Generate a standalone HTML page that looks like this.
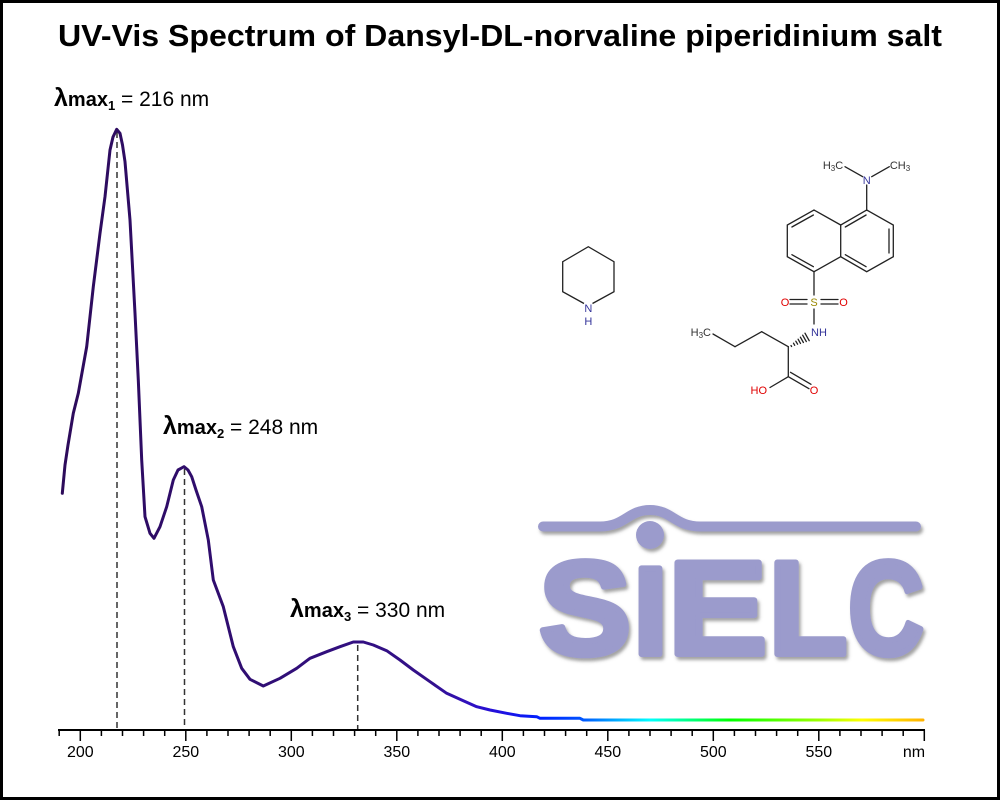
<!DOCTYPE html>
<html><head><meta charset="utf-8">
<style>
html,body{margin:0;padding:0;background:#fff;}
body{width:1000px;height:800px;overflow:hidden;}
svg{display:block;}
text{font-family:"Liberation Sans",Arial,sans-serif;}
</style></head>
<body>
<svg width="1000" height="800" viewBox="0 0 1000 800" xmlns="http://www.w3.org/2000/svg">
<defs>
<linearGradient id="spec" gradientUnits="userSpaceOnUse" x1="60" y1="0" x2="925" y2="0">
<stop offset="0" stop-color="#2d0b5a"/>
<stop offset="0.428" stop-color="#33108a"/>
<stop offset="0.474" stop-color="#3010c0"/>
<stop offset="0.509" stop-color="#2010e0"/>
<stop offset="0.555" stop-color="#0020ff"/>
<stop offset="0.601" stop-color="#0050ff"/>
<stop offset="0.682" stop-color="#00ffff"/>
<stop offset="0.728" stop-color="#00ff80"/>
<stop offset="0.775" stop-color="#00ff00"/>
<stop offset="0.879" stop-color="#a0ff00"/>
<stop offset="0.927" stop-color="#ffff00"/>
<stop offset="1" stop-color="#ffb000"/>
</linearGradient>
<filter id="sh" x="-10%" y="-10%" width="120%" height="130%">
<feDropShadow dx="2" dy="3" stdDeviation="1.5" flood-color="#555" flood-opacity="0.55"/>
</filter>
</defs>
<rect x="1.5" y="1.5" width="997" height="797" fill="#fff" stroke="#000" stroke-width="3"/>

<text x="500" y="46" text-anchor="middle" font-weight="bold" font-size="31" textLength="884" lengthAdjust="spacingAndGlyphs" fill="#000">UV-Vis Spectrum of Dansyl-DL-norvaline piperidinium salt</text>

<!-- SIELC logo -->
<g fill="#9b9bcc" stroke="#9b9bcc" filter="url(#sh)">
<path d="M 543,526.5 H 600 C 625,526.5 628,510 650,510 C 672,510 675,526.5 700,526.5 H 916" fill="none" stroke-width="10" stroke-linecap="round"/>
<circle cx="650" cy="535" r="14" stroke="none"/>
<g font-weight="bold" stroke-width="6" stroke-linejoin="round">
<text transform="translate(585,654) scale(1.04,1)" text-anchor="middle" font-size="133">S</text>
<text transform="translate(650.5,654)" text-anchor="middle" font-size="124">I</text>
<text transform="translate(717.5,654) scale(1.12,1)" text-anchor="middle" font-size="133">E</text>
<text transform="translate(808,654) scale(0.97,1)" text-anchor="middle" font-size="133">L</text>
<text transform="translate(886,654) scale(0.79,1)" text-anchor="middle" font-size="133">C</text>
</g>
</g>

<!-- piperidine -->
<g stroke="#222" stroke-width="1.3" fill="none">
<path d="M 584,303.5 L 562.7,291.7 L 562.7,261.7 L 588.3,246.7 L 614,261.7 L 614,291.7 L 592.5,303.5"/>
</g>
<text x="588.3" y="312" text-anchor="middle" font-size="11" fill="#333399">N</text>
<text x="588.3" y="325" text-anchor="middle" font-size="11" fill="#333399">H</text>

<!-- dansyl norvaline -->
<g stroke="#222" stroke-width="1.3" fill="none" stroke-linecap="round">
<line x1="845" y1="166.7" x2="862.7" y2="176.7"/>
<line x1="871.7" y1="176.7" x2="889.3" y2="166.7"/>
<line x1="866.7" y1="185" x2="866.7" y2="210"/>
<path d="M 866.7,210 L 893.3,225 L 893.3,256.7 L 866.7,271.7 L 840.7,256.7 L 840.7,225 Z"/>
<path d="M 840.7,225 L 814,210 L 787.3,225 L 787.3,256.7 L 814,271.7 L 840.7,256.7"/>
<line x1="889" y1="229" x2="889" y2="253"/>
<line x1="866.1" y1="266.7" x2="845.3" y2="254.7"/>
<line x1="845.3" y1="227" x2="866.1" y2="215"/>
<line x1="791.9" y1="227" x2="813.4" y2="215"/>
<line x1="791.9" y1="254.7" x2="813.4" y2="266.7"/>
<line x1="814" y1="271.7" x2="814" y2="295"/>
<line x1="790" y1="299.5" x2="807" y2="299.5"/>
<line x1="790" y1="304" x2="807" y2="304"/>
<line x1="821" y1="299.5" x2="838" y2="299.5"/>
<line x1="821" y1="304" x2="838" y2="304"/>
<line x1="814" y1="309" x2="814" y2="324"/>
<line x1="788.3" y1="346.7" x2="761.7" y2="331.7"/>
<line x1="761.7" y1="331.7" x2="735" y2="346.7"/>
<line x1="735" y1="346.7" x2="713" y2="334"/>
<line x1="788.3" y1="346.7" x2="788.3" y2="376.7"/>
<line x1="788.3" y1="376.7" x2="809" y2="388.7"/>
<line x1="790.5" y1="372.3" x2="811" y2="384.3"/>
<line x1="788.3" y1="376.7" x2="770" y2="387.5"/>
<line x1="791" y1="345.5" x2="791.6" y2="346.5" />
<line x1="793.5" y1="343.2" x2="794.7" y2="345.3"/>
<line x1="795.8" y1="341.2" x2="797.6" y2="344.2"/>
<line x1="798.1" y1="339.2" x2="800.5" y2="343.4"/>
<line x1="800.4" y1="337.2" x2="803.4" y2="342.5"/>
<line x1="802.7" y1="335.2" x2="806.3" y2="341.6"/>
<line x1="805" y1="333.2" x2="809.2" y2="340.7"/>
</g>
<g font-size="11">
<text x="833" y="169" text-anchor="middle" fill="#333">H<tspan font-size="8" dy="2">3</tspan><tspan dy="-2">C</tspan></text>
<text x="866.7" y="184" text-anchor="middle" fill="#333399">N</text>
<text x="900" y="169" text-anchor="middle" fill="#333">CH<tspan font-size="8" dy="2">3</tspan></text>
<text x="814" y="306" text-anchor="middle" fill="#998800">S</text>
<text x="785" y="306" text-anchor="middle" fill="#e00000">O</text>
<text x="843.5" y="306" text-anchor="middle" fill="#e00000">O</text>
<text x="811" y="336" fill="#333399">NH</text>
<text x="711" y="336" text-anchor="end" fill="#333">H<tspan font-size="8" dy="2">3</tspan><tspan dy="-2">C</tspan></text>
<text x="814" y="394" text-anchor="middle" fill="#e00000">O</text>
<text x="767" y="394" text-anchor="end" fill="#e00000">HO</text>
</g>

<!-- dashed lines -->
<g stroke="#333" stroke-width="1.5" stroke-dasharray="6,4">
<line x1="117" y1="132" x2="117" y2="729"/>
<line x1="184.5" y1="469" x2="184.5" y2="729"/>
<line x1="357.7" y1="645" x2="357.7" y2="729"/>
</g>

<!-- curve -->
<polyline fill="none" stroke="url(#spec)" stroke-width="3" stroke-linejoin="round" stroke-linecap="round" points="62.3,493.3 65,465 68,445 73.3,413.3 78.3,393.3 86.7,346.7 93.3,286.7 100,233.3 105,196.7 110,150 113,137 116.7,129.3 120,133.3 122.5,145 125,161.7 130,220 135,313.3 138.3,380 141.7,460 145,516.7 150,533.3 154,538.3 160,526.7 166.7,506.7 173.3,480 178,470 184,466.7 188,470 191.7,476.7 196,490 201.7,506.7 208.3,540 213.3,580 223.3,606.7 233.3,646.7 241.7,668.3 250,679.3 263.3,686 280,678.3 296.7,668.3 310,658.3 326.7,651.7 340,646.7 353.3,642 363.3,642 373.3,645 386.7,650.7 400,660 413.3,670 430,681.7 446.7,693.3 463.3,700.7 476.7,706.7 490,710 506.7,713.3 520,715.7 536.7,716.7 540,718.3 580,718.3 583.3,720 923,720"/>

<!-- labels -->
<g fill="#000">
<text x="54" y="106"><tspan font-weight="bold" font-size="25">λ</tspan><tspan font-weight="bold" font-size="20">max</tspan><tspan font-weight="bold" font-size="13" dy="4">1</tspan><tspan font-size="21" dy="-4"> = 216 nm</tspan></text>
<text x="163" y="434"><tspan font-weight="bold" font-size="25">λ</tspan><tspan font-weight="bold" font-size="20">max</tspan><tspan font-weight="bold" font-size="13" dy="4">2</tspan><tspan font-size="21" dy="-4"> = 248 nm</tspan></text>
<text x="290" y="617"><tspan font-weight="bold" font-size="25">λ</tspan><tspan font-weight="bold" font-size="20">max</tspan><tspan font-weight="bold" font-size="13" dy="4">3</tspan><tspan font-size="21" dy="-4"> = 330 nm</tspan></text>
</g>

<!-- axis -->
<g stroke="#000" fill="none">
<line x1="58" y1="730" x2="925" y2="730" stroke-width="2"/>
<path stroke-width="1.5" d="M59.2,730v6 M101.4,730v6 M122.5,730v6 M143.6,730v6 M164.7,730v6 M206.9,730v6 M228,730v6 M249.1,730v6 M270.2,730v6 M312.4,730v6 M333.5,730v6 M354.6,730v6 M375.7,730v6 M417.9,730v6 M439,730v6 M460.1,730v6 M481.2,730v6 M523.4,730v6 M544.5,730v6 M565.6,730v6 M586.7,730v6 M628.9,730v6 M650,730v6 M671.1,730v6 M692.2,730v6 M734.4,730v6 M755.5,730v6 M776.6,730v6 M797.7,730v6 M839.9,730v6 M861,730v6 M882.1,730v6 M903.2,730v6"/>
<path stroke-width="1.5" d="M80.3,730v11 M185.8,730v11 M291.3,730v11 M396.8,730v11 M502.3,730v11 M607.8,730v11 M713.3,730v11 M818.8,730v11 M924.3,730v11"/>
</g>
<g font-size="16" text-anchor="middle" fill="#000">
<text x="80.3" y="757">200</text>
<text x="185.8" y="757">250</text>
<text x="291.3" y="757">300</text>
<text x="396.8" y="757">350</text>
<text x="502.3" y="757">400</text>
<text x="607.8" y="757">450</text>
<text x="713.3" y="757">500</text>
<text x="818.8" y="757">550</text>
<text x="914" y="757">nm</text>
</g>
</svg>
</body></html>
